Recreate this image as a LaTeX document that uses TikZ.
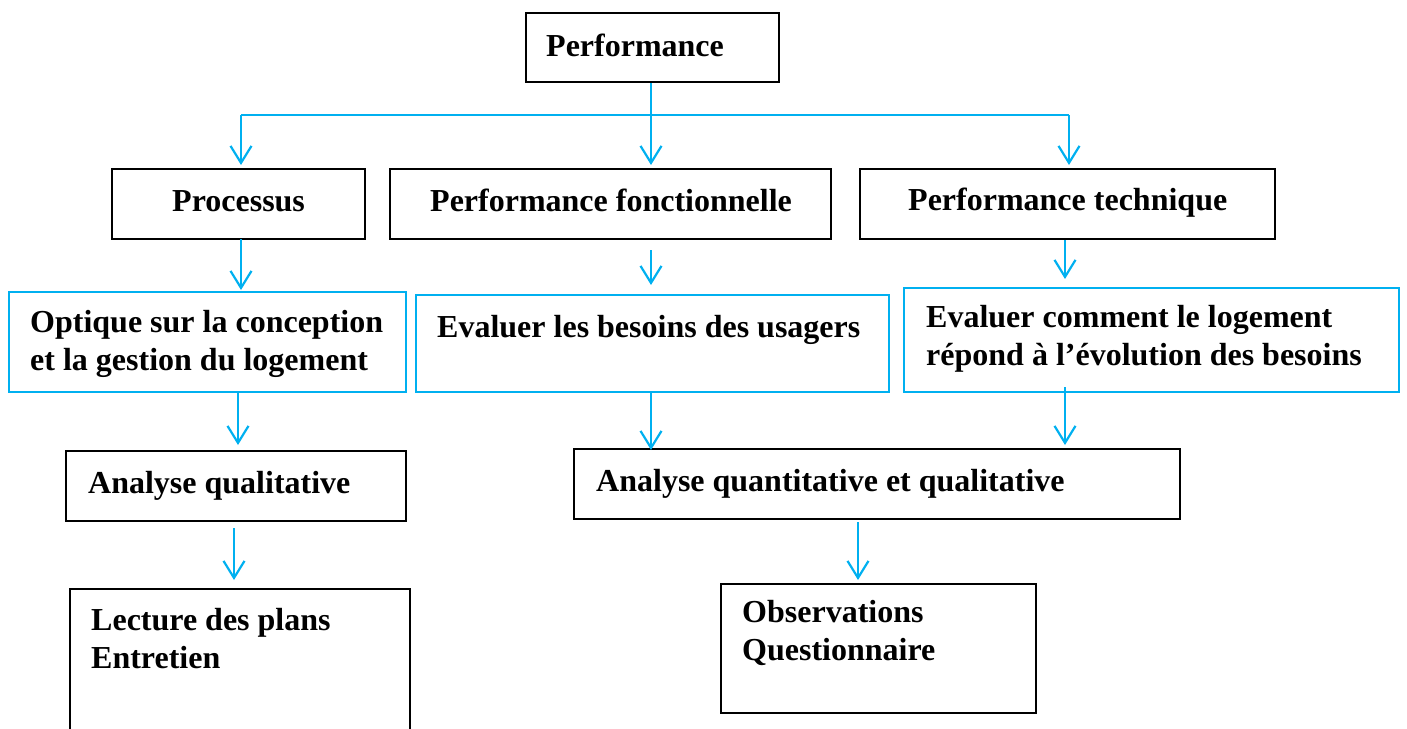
\documentclass[tikz,border=0pt]{standalone}
\usepackage{fontspec}
\setmainfont{Liberation Serif}
\usetikzlibrary{arrows.meta}
\definecolor{linkblue}{HTML}{00B0F0}
\begin{document}
\begin{tikzpicture}[x=1pt,y=-1pt,
  box/.style={draw=black, line width=2pt, rectangle, inner sep=0pt},
  bluebox/.style={draw=linkblue, line width=2pt, rectangle, inner sep=0pt},
  lbl/.style={anchor=base west, inner sep=0pt, align=left,
    font=\bfseries\fontsize{32}{37.5}\selectfont},
  arr/.style={draw=linkblue, line width=2.2pt,
    -{Straight Barb[length=17pt,width=21pt]}},
  link/.style={draw=linkblue, line width=2.2pt}]
\useasboundingbox (0,0) rectangle (1407,728);

% boxes
\node[box, minimum width=253pt, minimum height=69pt] (perf) at (652.5,47.5) {};
\node[box, minimum width=253pt, minimum height=70pt] (proc) at (238.5,204) {};
\node[box, minimum width=441pt, minimum height=70pt] (pfonc) at (610.5,204) {};
\node[box, minimum width=415pt, minimum height=70pt] (ptech) at (1067.5,204) {};
\node[bluebox, minimum width=397pt, minimum height=100pt] (optique) at (207.5,342) {};
\node[bluebox, minimum width=473pt, minimum height=97pt] (besoins) at (652.5,343.5) {};
\node[bluebox, minimum width=495pt, minimum height=104pt] (evol) at (1151.5,340) {};
\node[box, minimum width=340pt, minimum height=70pt] (aqual) at (236,486) {};
\node[box, minimum width=606pt, minimum height=70pt] (aquant) at (877,484) {};
\node[box, minimum width=340pt, minimum height=151pt] (lecture) at (240,664.5) {};
\node[box, minimum width=315pt, minimum height=129pt] (obs) at (878.5,648.5) {};

% texts (multi-line labels sit on the baseline of their last line)
\node[lbl] (tperf) at (546,56) {Performance};
\node[lbl] (tproc) at (172,211) {Processus};
\node[lbl] (tpfonc) at (430,211) {Performance fonctionnelle};
\node[lbl] (tptech) at (908,210) {Performance technique};
\node[lbl] (toptique) at (30,370) {Optique sur la conception\\et la gestion du logement};
\node[lbl] (tbesoins) at (437,337) {Evaluer les besoins des usagers};
\node[lbl] (tevol) at (926,365) {Evaluer comment le logement\\répond à l’évolution des besoins};
\node[lbl] (taqual) at (88,493) {Analyse qualitative};
\node[lbl] (taquant) at (596,491) {Analyse quantitative et qualitative};
\node[lbl] (tlecture) at (91,668) {Lecture des plans\\Entretien};
\node[lbl] (tobs) at (742,660) {Observations\\Questionnaire};

% connector end points
\coordinate (bus) at (651,115);
\coordinate (busL) at (241,115);
\coordinate (busR) at (1069,115);
\coordinate (procIn) at (241,165);
\coordinate (pfoncIn) at (651,165);
\coordinate (ptechIn) at (1069,165);
\coordinate (procOut) at (241,239);
\coordinate (optIn) at (241,290);
\coordinate (pfoncOut) at (651,250);
\coordinate (besIn) at (651,285);
\coordinate (ptechOut) at (1065,240);
\coordinate (evolIn) at (1065,279);
\coordinate (optOut) at (238,392);
\coordinate (aqualIn) at (238,445);
\coordinate (besOut) at (651,392);
\coordinate (aquantInL) at (651,450);
\coordinate (evolOut) at (1065,387);
\coordinate (aquantInR) at (1065,445);
\coordinate (aqualOut) at (234,528);
\coordinate (lecIn) at (234,580);
\coordinate (aquantOut) at (858,522);
\coordinate (obsIn) at (858,580);

% connectors
\draw[arr] (perf.south -| bus) -- (pfoncIn);
\draw[link] (busL) -- (busR);
\draw[arr] (busL) -- (procIn);
\draw[arr] (busR) -- (ptechIn);
\draw[arr] (procOut) -- (optIn);
\draw[arr] (pfoncOut) -- (besIn);
\draw[arr] (ptechOut) -- (evolIn);
\draw[arr] (optOut) -- (aqualIn);
\draw[arr] (besOut) -- (aquantInL);
\draw[arr] (evolOut) -- (aquantInR);
\draw[arr] (aqualOut) -- (lecIn);
\draw[arr] (aquantOut) -- (obsIn);
\end{tikzpicture}
\end{document}
